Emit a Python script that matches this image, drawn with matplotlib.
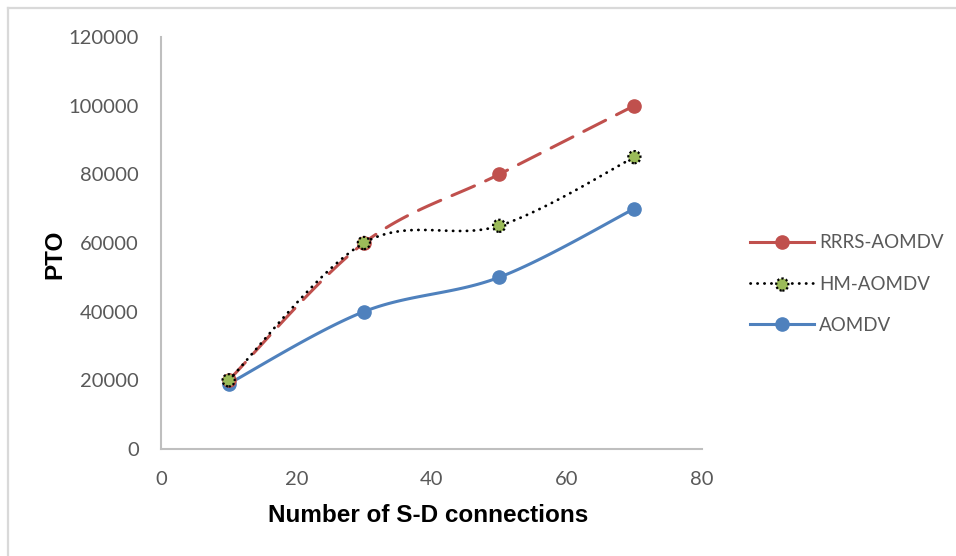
import numpy as np
import matplotlib
matplotlib.use("Agg")
import matplotlib.pyplot as plt
from matplotlib.lines import Line2D
from matplotlib.legend_handler import HandlerTuple

# S-D connection counts and PTO per protocol
connections = [10, 30, 50, 70]
rrrs_aomdv = [20000, 60000, 80000, 100000]
hm_aomdv = [20000, 60000, 65000, 85000]
aomdv = [19000, 40000, 50000, 70000]

x_ticks = [0, 20, 40, 60, 80]
y_ticks = [0, 20000, 40000, 60000, 80000, 100000, 120000]

RED = "#C0504D"
GREEN = "#9BBB59"
BLUE = "#4F81BD"
GRAY_TXT = "#595959"
TICK_FONT = "Lato"


def smooth(xs, ys, n=40):
    """Bezier smoothing through the points, like office chart smoothed lines"""
    pts = np.column_stack([xs, ys]).astype(float)
    padded = np.vstack([pts[0], pts, pts[-1]])
    out = []
    t = np.linspace(0, 1, n)[:, None]
    for i in range(len(pts) - 1):
        p0, p1, p2, p3 = padded[i], padded[i + 1], padded[i + 2], padded[i + 3]
        c1 = p1 + (p2 - p0) / 6
        c2 = p2 - (p3 - p1) / 6
        seg = (1 - t) ** 3 * p1 + 3 * (1 - t) ** 2 * t * c1 + 3 * (1 - t) * t ** 2 * c2 + t ** 3 * p2
        out.append(seg if i == 0 else seg[1:])
    out = np.vstack(out)
    return out[:, 0], out[:, 1]


fig = plt.figure(figsize=(9.56, 5.56), dpi=100)
ax = fig.add_axes([161 / 956, 107 / 556, 541 / 956, 412 / 556])

lw = 2.2
msize = 9.5
dotted = (0, (0.1, 2.4))

# AOMDV
sx, sy = smooth(connections, aomdv)
ax.plot(sx, sy, color=BLUE, lw=lw, solid_capstyle="round", zorder=2)
ax.plot(connections, aomdv, ls="none", marker="o", ms=msize, color=BLUE, zorder=3)

# RRRS-AOMDV
sx, sy = smooth(connections, rrrs_aomdv)
ax.plot(sx, sy, color=RED, lw=lw, ls=(0, (8, 4)), dash_capstyle="round", zorder=2)
ax.plot(connections, rrrs_aomdv, ls="none", marker="o", ms=msize, color=RED, zorder=3)

# HM-AOMDV
sx, sy = smooth(connections, hm_aomdv)
ax.plot(sx, sy, color="black", lw=2.0, ls=dotted, dash_capstyle="round", zorder=4)
hm_pts = ax.scatter(connections, hm_aomdv, s=msize ** 2 * 0.85, color=GREEN,
                    edgecolors="black", linewidths=1.6, linestyle=(0, (1, 1)), zorder=5)

ax.set_xlim(0, 80)
ax.set_ylim(0, 120000)
ax.set_xticks(x_ticks)
ax.set_yticks(y_ticks)
ax.tick_params(length=0, labelsize=14.5, colors=GRAY_TXT)
ax.tick_params(axis="y", pad=16)
ax.tick_params(axis="x", pad=16)
for lab in ax.get_xticklabels() + ax.get_yticklabels():
    lab.set_fontfamily(TICK_FONT)

for side in ["top", "right"]:
    ax.spines[side].set_visible(False)
for side in ["left", "bottom"]:
    ax.spines[side].set_color("#BFBFBF")
    ax.spines[side].set_linewidth(1.5)

fig.text(55 / 956, 1 - 254 / 556, "PTO", rotation=90, ha="center", va="center",
         fontsize=17.5, fontweight="bold", family="Liberation Sans")
fig.text(428 / 956, 1 - 516 / 556, "Number of S-D connections", ha="center", va="center",
         fontsize=17.5, fontweight="bold", family="Liberation Sans")

# legend
h_red = Line2D([], [], color=RED, lw=lw, marker="o", ms=msize)
h_hm_line = Line2D([], [], color="black", lw=2.0, ls=dotted, dash_capstyle="round")
h_blue = Line2D([], [], color=BLUE, lw=lw, marker="o", ms=msize)
leg = fig.legend([h_red, (h_hm_line, hm_pts), h_blue], ["RRRS-AOMDV", "HM-AOMDV", "AOMDV"],
                 loc="center left", bbox_to_anchor=(733.5 / 956, 1 - 284 / 556),
                 frameon=False, handlelength=3.4, handletextpad=0.27, labelspacing=1.3,
                 scatterpoints=1, handler_map={tuple: HandlerTuple(ndivide=1, pad=0)},
                 prop={"family": TICK_FONT, "size": 13.5})
for txt in leg.get_texts():
    txt.set_color(GRAY_TXT)

# chart frame
fig.add_artist(Line2D([8 / 956, 1.0], [1 - 8 / 556, 1 - 8 / 556], color="#D9D9D9", lw=1.6,
                      transform=fig.transFigure))
fig.add_artist(Line2D([8 / 956, 8 / 956], [0.0, 1 - 8 / 556], color="#D9D9D9", lw=1.6,
                      transform=fig.transFigure))

fig.savefig("out.png", dpi=100)
